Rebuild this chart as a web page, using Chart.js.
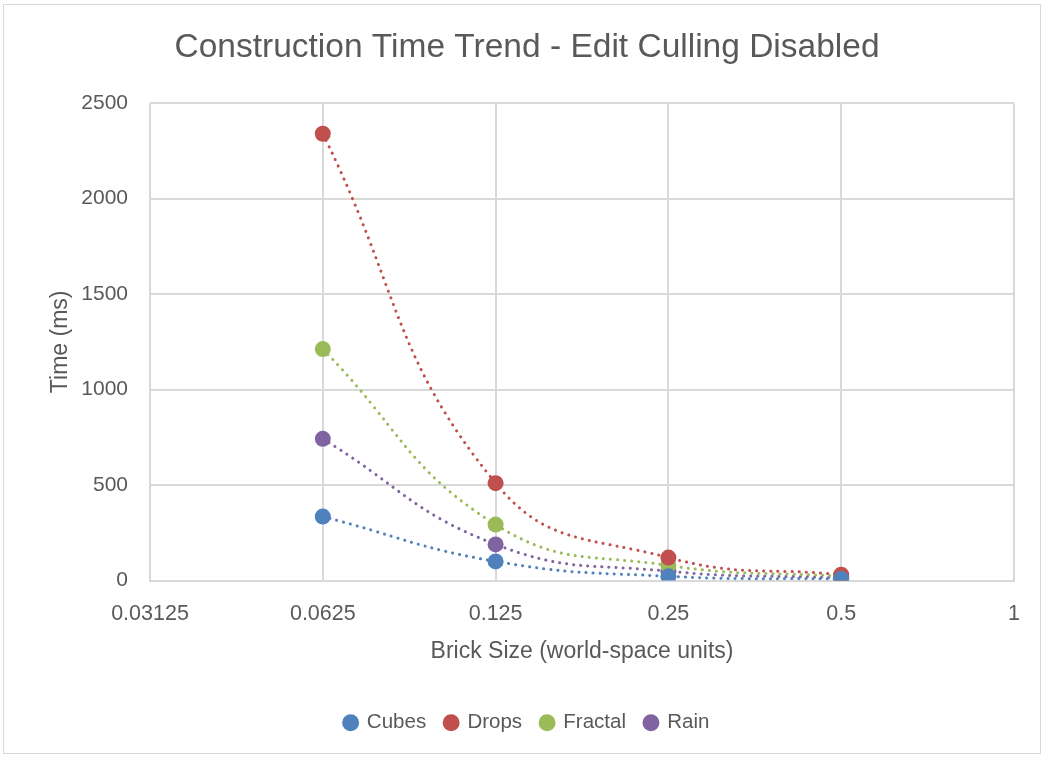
<!DOCTYPE html>
<html>
<head>
<meta charset="utf-8">
<script src="https://cdn.jsdelivr.net/npm/chart.js@4.4.1/dist/chart.umd.min.js"></script>
<style>
  body { margin: 0; background: #fff; }
  #frame { position: absolute; left: 3px; top: 4px; width: 1036px; height: 748px; border: 1px solid #d9d9d9; }
  #wrap { position: absolute; left: 0; top: 0; width: 1046px; height: 758px; }
</style>
</head>
<body>
<div id="frame"></div>
<div id="wrap"><canvas id="chart" width="1046" height="758"></canvas></div>
<script>
// Dados
const brickSizes = [0.0625, 0.125, 0.25, 0.5];
const cubes = [335, 100, 22, 8];
const drops = [2340, 510, 120, 30];
const fractal = [1212, 293, 79, 22];
const rain = [742, 189, 49, 14];
const xTicks = [0.03125, 0.0625, 0.125, 0.25, 0.5, 1];
const yTicks = [0, 500, 1000, 1500, 2000, 2500];

const seriesNames = ['Cubes', 'Drops', 'Fractal', 'Rain'];
const seriesValues = [cubes, drops, fractal, rain];
const seriesColors = ['#4F81BD', '#C0504D', '#9BBB59', '#8064A2'];

const FONT = "'Liberation Sans', Arial, sans-serif";
const TEXT = '#595959';
const GRID = '#d9d9d9';

function toPoints(values) {
  return brickSizes.map(function(x, i) {
    return { x: x, y: values[i] };
  });
}

const datasets = [];
// linhas de tendência (pontilhadas)
seriesNames.forEach(function(name, i) {
  datasets.push({
    label: name + ' trend',
    data: toPoints(seriesValues[i]),
    showLine: true,
    borderColor: seriesColors[i],
    borderWidth: 3,
    borderDash: [0.1, 7],
    borderCapStyle: 'round',
    tension: 0.45,
    pointRadius: 0,
    pointHoverRadius: 0,
    fill: false,
    order: 2
  });
});
// marcadores
seriesNames.forEach(function(name, i) {
  datasets.push({
    label: name,
    data: toPoints(seriesValues[i]),
    showLine: false,
    backgroundColor: seriesColors[i],
    borderColor: seriesColors[i],
    pointRadius: 8,
    pointBorderWidth: 0,
    pointStyle: 'circle',
    order: 1
  });
});

new Chart(document.getElementById('chart'), {
  type: 'scatter',
  data: { datasets: datasets },
  options: {
    responsive: false,
    animation: false,
    layout: { padding: { left: 40, right: 32, top: 0, bottom: 15 } },
    plugins: {
      title: {
        display: true,
        text: 'Construction Time Trend - Edit Culling Disabled',
        color: TEXT,
        font: { family: FONT, size: 33.5, weight: 'normal' },
        padding: { top: 28, bottom: 35 }
      },
      legend: {
        position: 'bottom',
        labels: {
          filter: function(item) { return seriesNames.indexOf(item.text) >= 0; },
          usePointStyle: true,
          pointStyle: 'circle',
          boxWidth: 12,
          boxHeight: 12,
          padding: 19,
          color: TEXT,
          font: { family: FONT, size: 20.5 }
        }
      },
      tooltip: { enabled: false }
    },
    scales: {
      x: {
        type: 'logarithmic',
        min: xTicks[0],
        max: xTicks[xTicks.length - 1],
        afterBuildTicks: function(scale) {
          scale.ticks = xTicks.map(function(v) { return { value: v }; });
        },
        afterFit: function(scale) { scale.height = 113; },
        ticks: {
          color: TEXT,
          font: { family: FONT, size: 21.5 },
          padding: 21,
          maxRotation: 0,
          autoSkip: false,
          callback: function(value) { return String(value); }
        },
        grid: { color: GRID, lineWidth: 2, drawTicks: false },
        border: { color: GRID, width: 2 },
        title: {
          display: true,
          text: 'Brick Size (world-space units)',
          color: TEXT,
          font: { family: FONT, size: 23 },
          padding: { top: 4, bottom: 28 }
        }
      },
      y: {
        min: 0,
        max: 2500,
        afterBuildTicks: function(scale) {
          scale.ticks = yTicks.map(function(v) { return { value: v }; });
        },
        afterFit: function(scale) { scale.width = 110; },
        ticks: {
          color: TEXT,
          font: { family: FONT, size: 21 },
          padding: 22,
          callback: function(value) { return String(value); }
        },
        grid: { color: GRID, lineWidth: 2, drawTicks: false },
        border: { display: false },
        title: {
          display: true,
          text: 'Time (ms)',
          color: TEXT,
          font: { family: FONT, size: 23 },
          padding: { top: 7, bottom: 0 }
        }
      }
    }
  }
});
</script>
</body>
</html>
